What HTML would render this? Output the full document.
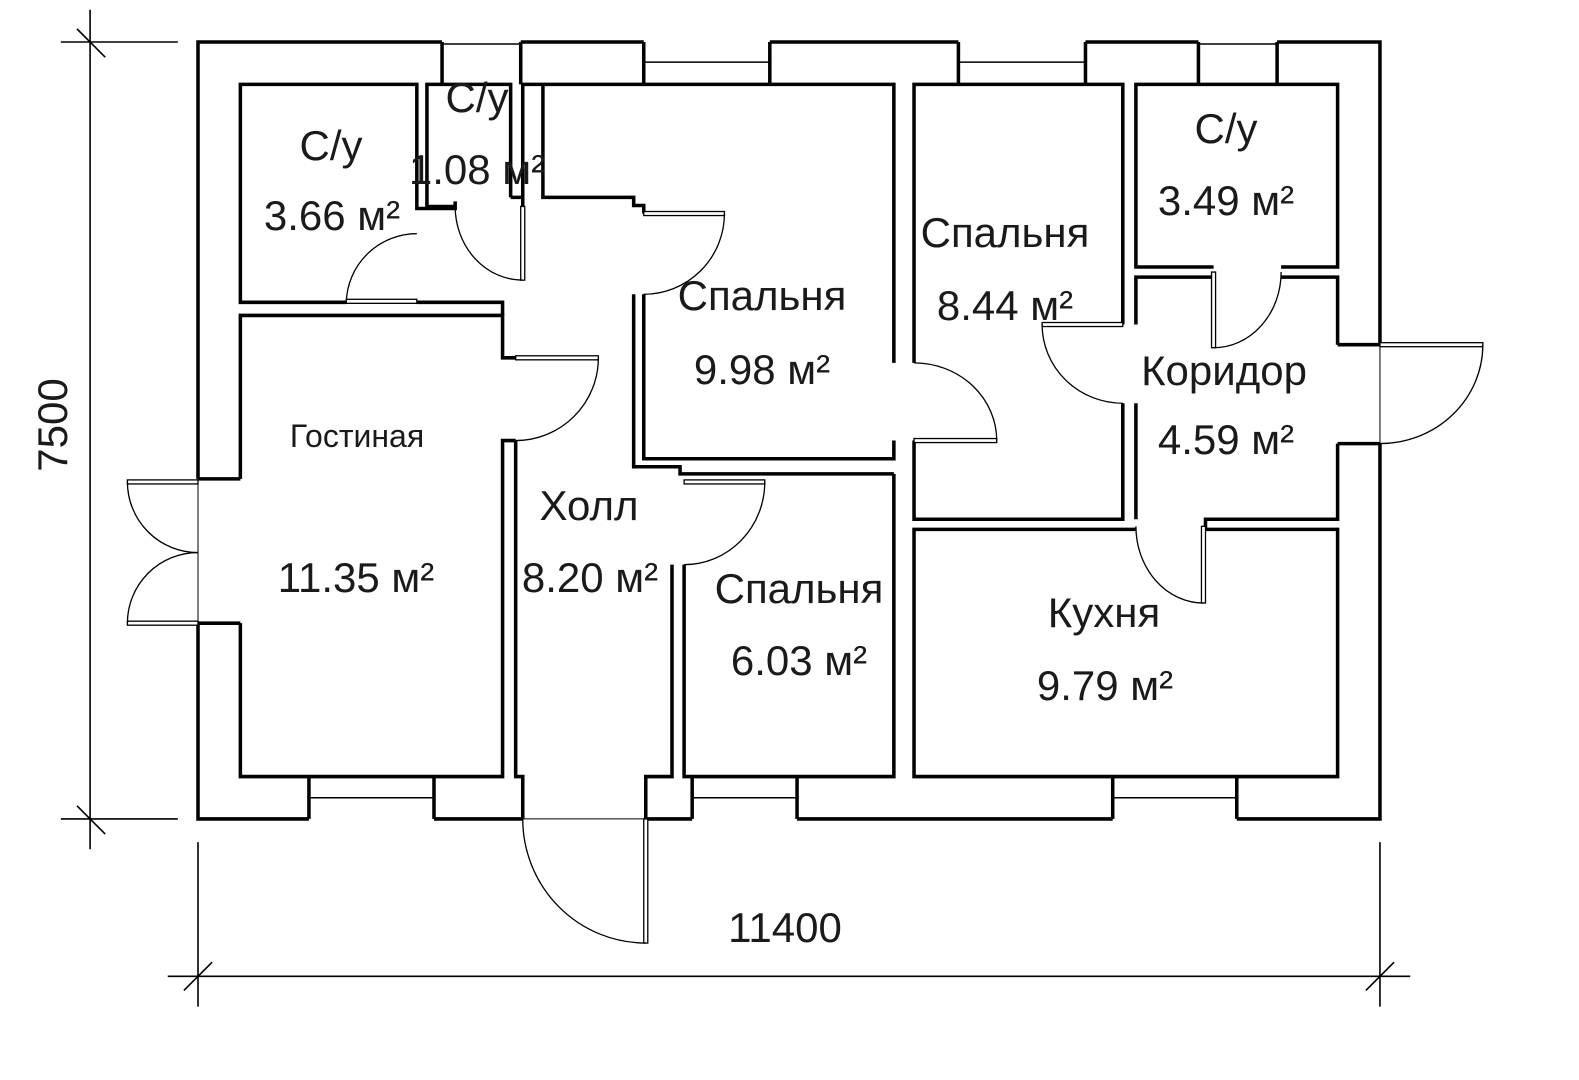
<!DOCTYPE html>
<html><head><meta charset="utf-8"><style>
html,body{margin:0;padding:0;background:#fff;}
svg{display:block;}
text{font-family:"Liberation Sans",Arial,sans-serif;fill:#1a1a1a;}
</style></head><body>
<svg width="1579" height="1080" viewBox="0 0 1579 1080" xmlns="http://www.w3.org/2000/svg">
<g transform="translate(198,42) scale(1.0085,1.009) translate(-198,-42)">
<g fill="none" stroke="#000" stroke-width="3.5" stroke-linejoin="miter">
<polyline points="198,475 198,42 440,42"/>
<polyline points="518,42 640,42"/>
<polyline points="765,42 952,42"/>
<polyline points="1078,42 1190,42"/>
<polyline points="1268,42 1370,42 1370,342"/>
<polyline points="1370,440 1370,812 1228,812"/>
<polyline points="1105,812 792,812"/>
<polyline points="688,812 642,812"/>
<polyline points="520,812 432,812"/>
<polyline points="308,812 198,812 198,618"/>
<polyline points="440,42 440,84"/><polyline points="518,42 518,84"/>
<polyline points="640,42 640,84"/><polyline points="765,42 765,84"/>
<polyline points="952,42 952,84"/><polyline points="1078,42 1078,84"/>
<polyline points="1190,42 1190,84"/><polyline points="1268,42 1268,84"/>
<polyline points="308,770 308,812"/><polyline points="432,770 432,812"/>
<polyline points="688,770 688,812"/><polyline points="792,770 792,812"/>
<polyline points="1105,770 1105,812"/><polyline points="1228,770 1228,812"/>
<polyline points="198,475 240,475"/><polyline points="198,618 240,618"/>
<polyline points="1328,342 1370,342"/><polyline points="1328,440 1370,440"/>
<polyline points="345,300 240,300 240,84 415,84 415,207 453,207 453,200"/>
<polyline points="415,300 500,300 500,313"/>
<polyline points="425,207 425,84 508,84 508,196"/>
<polyline points="453,205 425,205"/>
<polyline points="520,205 520,196 508,196"/>
<polyline points="520,196 520,84 888,84 888,360"/>
<polyline points="540,84 540,196 630,196 630,204 640,204 640,212"/>
<polyline points="630,292 630,463 676,463 676,470 888,470"/>
<polyline points="640,292 640,455 888,455 888,437"/>
<polyline points="908,360 908,84 1115,84 1115,322"/>
<polyline points="908,437 908,515 1115,515 1115,400"/>
<polyline points="1205,265 1128,265 1128,84 1328,84 1328,265 1272,265"/>
<polyline points="1205,275 1128,275 1128,322"/>
<polyline points="1272,275 1328,275 1328,342"/>
<polyline points="1128,400 1128,515"/>
<polyline points="1328,440 1328,515 1197,515 1197,525"/>
<polyline points="1128,525 908,525 908,770 1328,770 1328,525 1197,525"/>
<polyline points="240,475 240,313 500,313 500,355 513,355"/>
<polyline points="513,437 500,437 500,770 240,770 240,618"/>
<polyline points="513,437 513,770 520,770 520,812"/>
<polyline points="668,560 668,770 642,770 642,812"/>
<polyline points="680,560 680,770 888,770 888,470"/>
</g>
<g stroke="#000" stroke-width="1.5" fill="none">
<line x1="440" y1="44" x2="518" y2="44"/>
<line x1="640" y1="62" x2="765" y2="62"/><line x1="640" y1="84" x2="765" y2="84"/>
<line x1="952" y1="62" x2="1078" y2="62"/><line x1="952" y1="84" x2="1078" y2="84"/>
<line x1="1190" y1="44" x2="1268" y2="44"/>
<line x1="308" y1="791" x2="432" y2="791"/><line x1="308" y1="770" x2="432" y2="770"/>
<line x1="688" y1="791" x2="792" y2="791"/><line x1="688" y1="770" x2="792" y2="770"/>
<line x1="1105" y1="791" x2="1228" y2="791"/><line x1="1105" y1="770" x2="1228" y2="770"/>
<line x1="198" y1="475" x2="198" y2="618" stroke-width="1"/>
<line x1="1370" y1="342" x2="1370" y2="440" stroke-width="1"/>
<line x1="520" y1="812" x2="642" y2="812" stroke-width="1"/>
</g>
<g stroke="#000" stroke-width="1.3" fill="#fff">
<rect x="345" y="297" width="70" height="4"/>
<rect x="518" y="205" width="4" height="73"/>
<rect x="640" y="210" width="80" height="4"/>
<rect x="513" y="353" width="82" height="4"/>
<rect x="680" y="476" width="80" height="4"/>
<rect x="908" y="435" width="82" height="4"/>
<rect x="1035" y="320" width="80" height="4"/>
<rect x="1203" y="270" width="4" height="75"/>
<rect x="1193" y="522" width="4" height="76"/>
<rect x="1370" y="340" width="102" height="4"/>
<rect x="128" y="476" width="70" height="4"/>
<rect x="128" y="616" width="70" height="4"/>
<rect x="640" y="812" width="4" height="123"/>
</g>
<g stroke="#000" stroke-width="1.3" fill="none">
<path d="M345,300 A70,70 0 0 1 415,232"/>
<path d="M453,205 A67,73 0 0 0 520,278"/>
<path d="M720,212 A80,80 0 0 1 640,292"/>
<path d="M595,355 A82,82 0 0 1 513,437"/>
<path d="M760,478 A80,82 0 0 1 680,560"/>
<path d="M990,437 A82,77 0 0 0 908,360"/>
<path d="M1035,322 A80,78 0 0 0 1115,400"/>
<path d="M1205,345 A67,75 0 0 0 1272,270"/>
<path d="M1195,598 A67,76 0 0 1 1128,522"/>
<path d="M1472,342 A102,98 0 0 1 1370,440"/>
<path d="M128,478 A70,70 0 0 0 198,548"/>
<path d="M198,548 A70,70 0 0 0 128,618"/>
<path d="M520,812 A122,123 0 0 0 642,935"/>
</g>
<g stroke="#000" stroke-width="1.6">
<line x1="91" y1="10" x2="91" y2="842"/>
<line x1="62" y1="42" x2="178" y2="42"/>
<line x1="62" y1="812" x2="178" y2="812"/>
<line x1="78" y1="29" x2="106" y2="57"/>
<line x1="78" y1="799" x2="106" y2="827"/>
<line x1="168" y1="968" x2="1400" y2="968"/>
<line x1="198" y1="835" x2="198" y2="998"/>
<line x1="1370" y1="835" x2="1370" y2="998"/>
<line x1="184" y1="982" x2="212" y2="954"/>
<line x1="1356" y1="982" x2="1384" y2="954"/>
</g>
</g>
<g font-size="42">
<text x="331" y="160" text-anchor="middle">С/у</text>
<text x="332" y="230" text-anchor="middle">3.66 м²</text>
<text x="477" y="112" text-anchor="middle">С/у</text>
<text x="477" y="184" text-anchor="middle">1.08 м²</text>
<text x="762" y="310" text-anchor="middle">Спальня</text>
<text x="762" y="384" text-anchor="middle">9.98 м²</text>
<text x="1005" y="247" text-anchor="middle">Спальня</text>
<text x="1005" y="320" text-anchor="middle">8.44 м²</text>
<text x="1226" y="143" text-anchor="middle">С/у</text>
<text x="1226" y="215" text-anchor="middle">3.49 м²</text>
<text x="1224" y="385" text-anchor="middle">Коридор</text>
<text x="1226" y="454" text-anchor="middle">4.59 м²</text>
<text x="589" y="520" text-anchor="middle">Холл</text>
<text x="590" y="592" text-anchor="middle">8.20 м²</text>
<text x="356" y="592" text-anchor="middle">11.35 м²</text>
<text x="799" y="603" text-anchor="middle">Спальня</text>
<text x="799" y="675" text-anchor="middle">6.03 м²</text>
<text x="1104" y="627" text-anchor="middle">Кухня</text>
<text x="1105" y="700" text-anchor="middle">9.79 м²</text>
<text x="785" y="942" text-anchor="middle">11400</text>
<text transform="translate(67,425) rotate(-90)" text-anchor="middle">7500</text>
</g>
<text x="357" y="447" text-anchor="middle" font-size="32">Гостиная</text>
</svg>
</body></html>
